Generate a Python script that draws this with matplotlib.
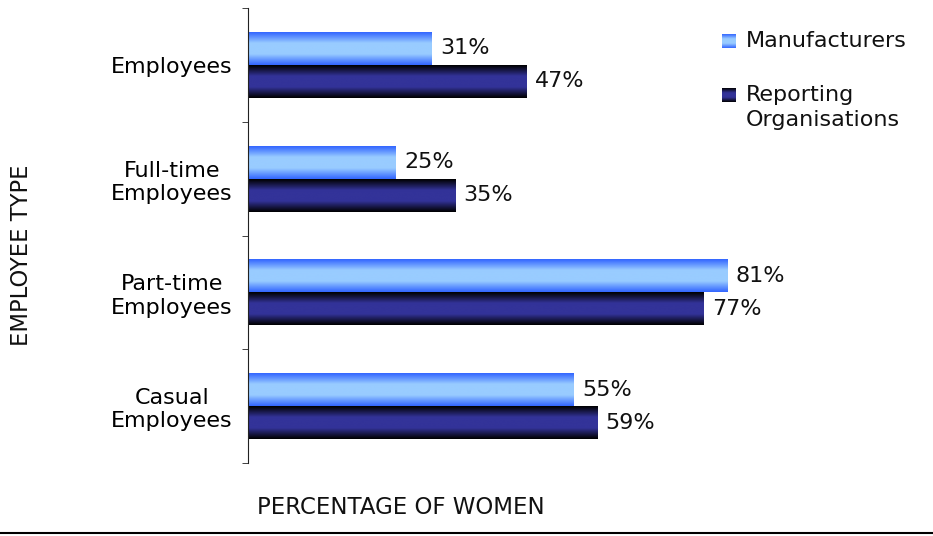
import numpy as np
import matplotlib.pyplot as plt
from matplotlib.colors import LinearSegmentedColormap
from matplotlib.lines import Line2D

# --- Data ---
categories = ["Employees", "Full-time\nEmployees", "Part-time\nEmployees", "Casual\nEmployees"]
manufacturers = [31, 25, 81, 55]
reporting_orgs = [47, 35, 77, 59]
series_names = ["Manufacturers", "Reporting\nOrganisations"]

# gradient maps (edge -> middle -> edge)
light_cmap = LinearSegmentedColormap.from_list("light", ["#3366ff", "#99ccff", "#99ccff", "#3366ff"])
dark_cmap = LinearSegmentedColormap.from_list("dark", ["#000000", "#333399", "#333399", "#000000"])
grad = np.linspace(0, 1, 64).reshape(-1, 1)

plt.rcParams['font.family'] = 'DejaVu Sans'
fig = plt.figure(figsize=(9.33, 5.36), dpi=100)
ax = fig.add_axes([248 / 933, 1 - 463 / 536, 592 / 933, 455 / 536])

y = np.arange(len(categories))
h = 0.29


def gradient_bars(values, offset, cmap):
    bars = ax.barh(y + offset, values, height=h, color='none', edgecolor='none')
    for b in bars:
        x0, y0, w, hh = b.get_x(), b.get_y(), b.get_width(), b.get_height()
        ax.imshow(grad, cmap=cmap, aspect='auto', extent=(x0, x0 + w, y0 + hh, y0),
                  zorder=2, interpolation='bicubic')
    for b, v in zip(bars, values):
        ax.annotate(f"{v}%", (b.get_width(), b.get_y() + b.get_height() / 2),
                    xytext=(6, 0), textcoords='offset points', va='center', ha='left',
                    fontsize=16, color='#111111')


gradient_bars(manufacturers, -h / 2, light_cmap)
gradient_bars(reporting_orgs, h / 2, dark_cmap)

ax.set_xlim(0, 100)
ax.set_ylim(len(categories) - 0.5, -0.5)

# --- Formatting ---
for s in ['top', 'right', 'bottom']:
    ax.spines[s].set_visible(False)
ax.spines['left'].set_color('#222222')
ax.set_xticks([])
ax.set_yticks(y)
ax.set_yticklabels(categories, fontsize=16)
for lbl in ax.get_yticklabels():
    lbl.set_multialignment('center')
ax.tick_params(axis='y', which='major', length=0, pad=11)
ax.set_yticks(np.arange(-0.5, len(categories)), minor=True)
ax.tick_params(axis='y', which='minor', length=4, color='#222222')

fig.text(22 / 933, 1 - 255 / 536, "EMPLOYEE TYPE", rotation=90, fontsize=16.3,
         ha='center', va='center', color='#111111')
fig.text(257 / 933, 1 - 507 / 536, "PERCENTAGE OF WOMEN", fontsize=16.5,
         ha='left', va='center', color='#111111')

# legend with gradient swatches
leg_y = [41, 95]
for name, cmap, yy in zip(series_names, [light_cmap, dark_cmap], leg_y):
    sw = fig.add_axes([722 / 933, 1 - (yy + 7) / 536, 14 / 933, 14 / 536])
    sw.imshow(grad, cmap=cmap, aspect='auto', interpolation='bicubic')
    sw.axis('off')
    fig.text(746 / 933, 1 - (yy - 10) / 536, name, fontsize=16, ha='left', va='top',
             color='#111111', linespacing=1.3)

fig.add_artist(Line2D([0, 1], [1 - 533 / 536, 1 - 533 / 536], color='black', lw=1.5,
                      transform=fig.transFigure))

fig.savefig("out.png", dpi=100)
